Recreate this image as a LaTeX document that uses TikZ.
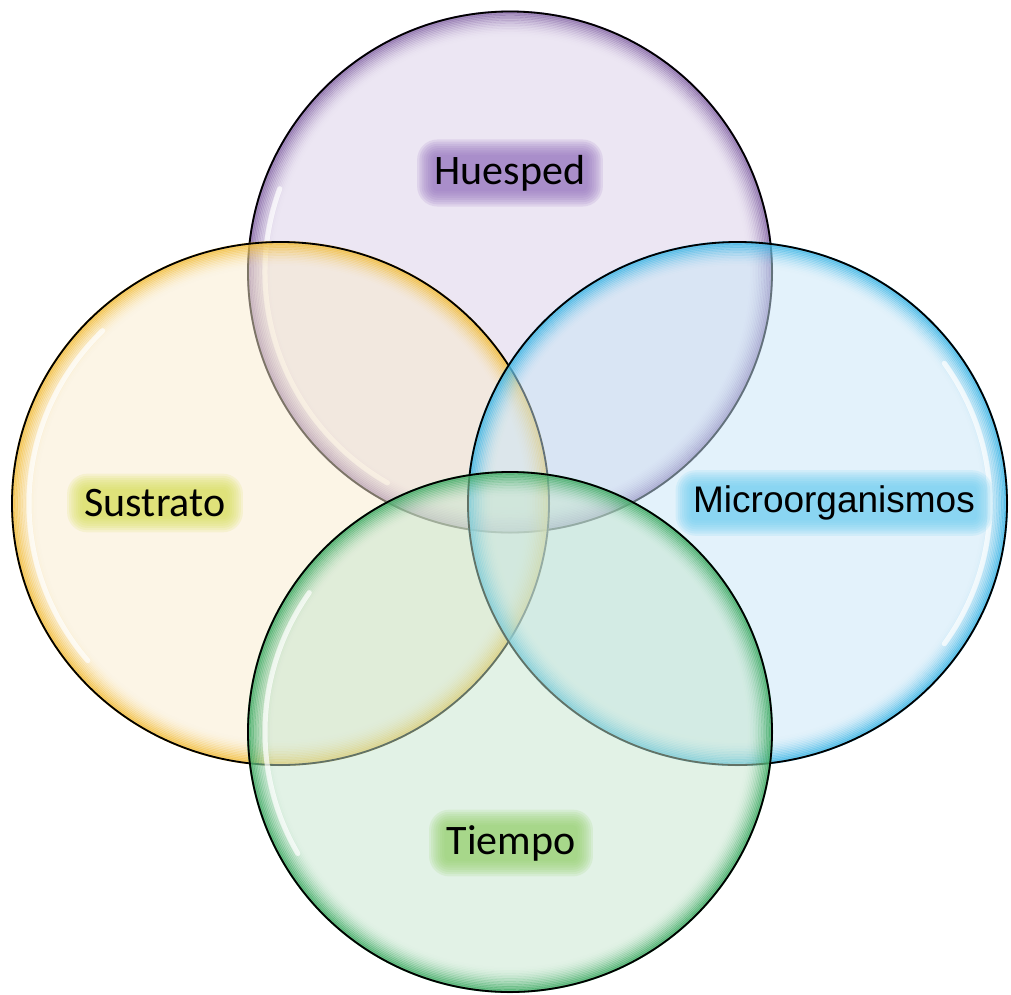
\documentclass[tikz,border=0pt]{standalone}
\usepackage{fontspec}
\setmainfont{Carlito}
\newfontfamily\arialf{Liberation Sans}
\pgfdeclarelayer{circ}
\pgfdeclarelayer{glow}
\pgfsetlayers{circ,glow,main}
\definecolor{pfill}{RGB}{217,205,231}
\definecolor{yfill}{RGB}{249,235,205}
\definecolor{bfill}{RGB}{199,229,247}
\definecolor{gfill}{RGB}{197,229,205}
\definecolor{pring}{RGB}{128,96,162}
\definecolor{yring}{RGB}{242,185,46}
\definecolor{bring}{RGB}{50,178,228}
\definecolor{gring}{RGB}{50,165,90}
\definecolor{pglow}{RGB}{150,115,190}
\definecolor{yglow}{RGB}{215,222,90}
\definecolor{bglow}{RGB}{110,205,240}
\definecolor{gglow}{RGB}{150,208,110}
\newcommand\vennshape[8]{% x, y, rx, ry, fill, ring, hl start, hl end
  \fill[#5, fill opacity=0.5] (#1,#2) ellipse [x radius=#3, y radius=#4];
  \foreach \k in {0,...,15}{%
    \pgfmathsetmacro\op{0.75*(1-\k/16)*(1-\k/16)}%
    \draw[#6, line width=2pt, draw opacity=\op] (#1,#2) ellipse [x radius={#3-1.6*\k}, y radius={#4-1.6*\k}];
  }
  \draw[white, line width=5pt, draw opacity=0.7, line cap=round]
    (#1,#2) ++({#7}:{#3-17} and {#4-17}) arc[start angle=#7, end angle=#8, x radius={#3-17}, y radius={#4-17}];
  \draw[black, line width=1.8pt] (#1,#2) ellipse [x radius=#3, y radius=#4];
}
\newcommand\glowbox[2]{% node, color
  \foreach \k in {0,...,7}{%
    \pgfmathsetmacro\d{\k*2.2}%
    \fill[#2, fill opacity=0.16, rounded corners={5+\d}]
      ([xshift=-\d, yshift=-\d]#1.south west) rectangle ([xshift=\d, yshift=\d]#1.north east);
  }
}
\begin{document}
\begin{tikzpicture}[x=1pt, y=-1pt,
  lbl/.style={font=\fontsize{42}{46}\selectfont, text=black, inner xsep=2pt, inner ysep=0pt}]
\useasboundingbox (0,0) rectangle (1011,994);
\begin{pgfonlayer}{circ}
  \vennshape{510}{272}{262}{260.5}{pfill}{pring}{120}{200}
  \vennshape{280.5}{503.5}{268.5}{261.5}{yfill}{yring}{140}{225}
  \vennshape{737.5}{503.5}{269.5}{261.5}{bfill}{bring}{-35}{35}
  \vennshape{510}{732}{262}{260}{gfill}{gring}{150}{215}
\end{pgfonlayer}
\node[lbl] (hue) at (510,173) {Huesped};
\node[lbl] (sus) at (155,503) {Sustrato};
\node[lbl, font=\arialf\fontsize{37}{42}\selectfont] (mic) at (834,503) {Microorganismos};
\node[lbl] (tie) at (511,843) {Tiempo};
\begin{pgfonlayer}{glow}
  \glowbox{hue}{pglow}
  \glowbox{sus}{yglow}
  \glowbox{mic}{bglow}
  \glowbox{tie}{gglow}
\end{pgfonlayer}
\end{tikzpicture}
\end{document}
